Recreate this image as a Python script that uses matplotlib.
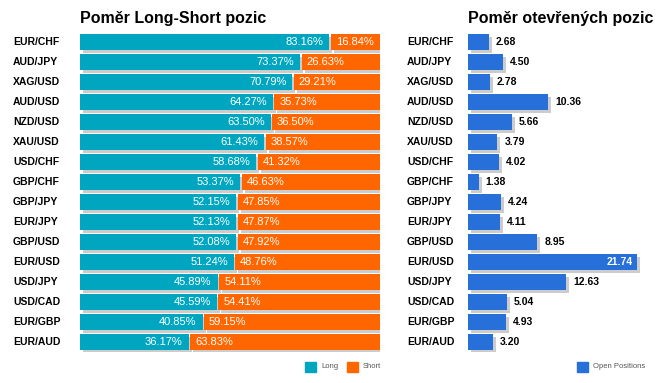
import matplotlib
matplotlib.use("Agg")
import matplotlib.pyplot as plt
import matplotlib.transforms as mtransforms
from matplotlib.patches import Rectangle

plt.rcParams['font.family'] = ['Liberation Sans', 'DejaVu Sans']

pairs = ["EUR/CHF", "AUD/JPY", "XAG/USD", "AUD/USD", "NZD/USD", "XAU/USD", "USD/CHF",
         "GBP/CHF", "GBP/JPY", "EUR/JPY", "GBP/USD", "EUR/USD", "USD/JPY", "USD/CAD",
         "EUR/GBP", "EUR/AUD"]
long_pct = [83.16, 73.37, 70.79, 64.27, 63.50, 61.43, 58.68, 53.37, 52.15, 52.13,
            52.08, 51.24, 45.89, 45.59, 40.85, 36.17]
short_pct = [16.84, 26.63, 29.21, 35.73, 36.50, 38.57, 41.32, 46.63, 47.85, 47.87,
             47.92, 48.76, 54.11, 54.41, 59.15, 63.83]
open_pos = [2.68, 4.50, 2.78, 10.36, 5.66, 3.79, 4.02, 1.38, 4.24, 4.11, 8.95, 21.74,
            12.63, 5.04, 4.93, 3.20]

title_left = "Poměr Long-Short pozic"
title_right = "Poměr otevřených pozic"

C_LONG = "#00A6BF"
C_SHORT = "#FF6600"
C_OPEN = "#2770D9"
C_SHADOW = "#CCCCCC"

W, H = 666, 383
fig = plt.figure(figsize=(W / 100, H / 100), dpi=100)

def px_axes(x0, x1, y0, y1):
    return fig.add_axes([x0 / W, 1 - y1 / H, (x1 - x0) / W, (y1 - y0) / H])

n = len(pairs)
ytop, ybot = 32, 352
row_px = (ybot - ytop) / n

# Left panel
axL = px_axes(80, 380, ytop, ybot)
axL.set_xlim(0, 100)
axL.set_ylim(n - 0.5, -0.5)
axL.axis("off")
px_x = 100 / 300
sx, sy = 3 * px_x, 3 / row_px
bh = 16 / row_px
gap = 1.5 * px_x
for i in range(n):
    lv, sv = long_pct[i], short_pct[i]
    axL.barh(i + sy, lv, left=sx, height=bh, color=C_SHADOW, zorder=1)
    axL.barh(i + sy, sv - gap, left=lv + gap + sx, height=bh, color=C_SHADOW, zorder=1)
for i in range(n):
    lv, sv = long_pct[i], short_pct[i]
    axL.barh(i, lv, height=bh, color=C_LONG, zorder=2)
    axL.barh(i, sv - gap, left=lv + gap, height=bh, color=C_SHORT, zorder=2)
    axL.text(lv - 6 * px_x, i, f"{lv:.2f}%", color="white", fontsize=8,
             ha="right", va="center", zorder=3)
    axL.text(lv + gap + 5 * px_x, i, f"{sv:.2f}%", color="white", fontsize=8,
             ha="left", va="center", zorder=3)

trL = mtransforms.blended_transform_factory(fig.transFigure, axL.transData)
for i, p in enumerate(pairs):
    axL.text(13 / W, i, p, transform=trL, fontsize=7.5, fontweight="bold",
             ha="left", va="center")

# Right panel
axR = px_axes(468, 662, ytop, ybot)
xmax = 194 / 7.76
axR.set_xlim(0, xmax)
axR.set_ylim(n - 0.5, -0.5)
axR.axis("off")
pxr = xmax / 194
for i, v in enumerate(open_pos):
    axR.barh(i + sy, v, left=3 * pxr, height=bh, color=C_SHADOW, zorder=1)
for i, v in enumerate(open_pos):
    axR.barh(i, v, height=bh, color=C_OPEN, zorder=2)
    if v > 20:
        axR.text(v - 4 * pxr, i, f"{v:.2f}", color="white", fontsize=7.5,
                 fontweight="bold", ha="right", va="center", zorder=3)
    else:
        axR.text(v + 7 * pxr, i, f"{v:.2f}", color="black", fontsize=7.5,
                 fontweight="bold", ha="left", va="center", zorder=3)
trR = mtransforms.blended_transform_factory(fig.transFigure, axR.transData)
for i, p in enumerate(pairs):
    axR.text(407 / W, i, p, transform=trR, fontsize=7.5, fontweight="bold",
             ha="left", va="center")

# Titles
fig.text(80 / W, 1 - 18 / H, title_left, fontsize=11.5, fontweight="bold",
         ha="left", va="center")
fig.text(468 / W, 1 - 18 / H, title_right, fontsize=11.5, fontweight="bold",
         ha="left", va="center")

# Legends
def legend_item(x, label, color):
    fig.patches.append(Rectangle((x / W, 1 - 372 / H), 11 / W, 10 / H,
                                 transform=fig.transFigure, color=color))
    fig.text((x + 16) / W, 1 - 367 / H, label, fontsize=5.5, color="#555555",
             ha="left", va="center")

legend_item(305, "Long", C_LONG)
legend_item(347, "Short", C_SHORT)
legend_item(577, "Open Positions", C_OPEN)

fig.savefig("out.png", dpi=100)
